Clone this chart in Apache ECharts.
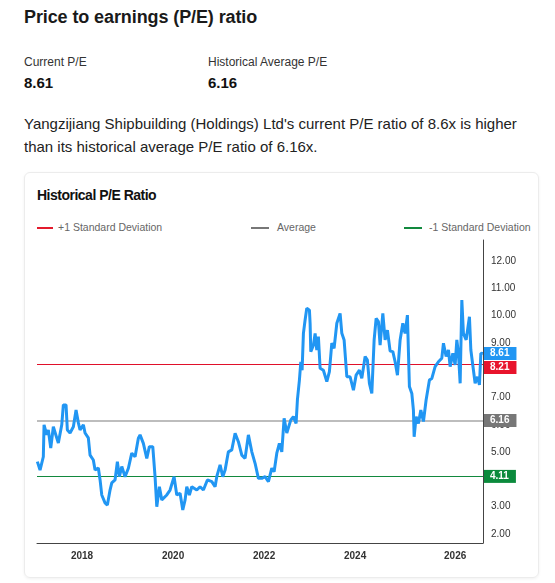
<!DOCTYPE html>
<html>
<head>
<meta charset="utf-8">
<script src="https://cdn.jsdelivr.net/npm/echarts@6/dist/echarts.min.js"></script>
<style>
  html, body { margin:0; padding:0; background:#fff; }
  body { width:555px; height:583px; position:relative; overflow:hidden;
         font-family:"Liberation Sans", Arial, sans-serif; color:#1a1a1a; }
  .abs { position:absolute; white-space:nowrap; }
  #title { left:24px; top:7px; font-size:18px; font-weight:bold; letter-spacing:-0.1px; }
  .lab { font-size:12px; color:#333; }
  .val { font-size:15px; font-weight:bold; color:#111; }
  #para { left:24px; top:112px; font-size:15px; line-height:23px; color:#222; white-space:normal; width:520px; }
  #card { position:absolute; left:24px; top:172px; width:513px; height:404px;
          border:1px solid #ececec; border-radius:6px; box-shadow:0 1px 3px rgba(0,0,0,0.06); }
  #ctitle { left:37px; top:187px; font-size:14px; font-weight:bold; letter-spacing:-0.5px; color:#111; }
  .lg { font-size:10.5px; color:#666; top:221px; }
  .lgl { position:absolute; height:2px; top:226.5px; }
  #chart { position:absolute; left:0; top:0; width:555px; height:583px; }
</style>
</head>
<body>
<div id="title" class="abs">Price to earnings (P/E) ratio</div>
<div class="abs lab" style="left:24px;top:55px;">Current P/E</div>
<div class="abs val" style="left:24px;top:74px;">8.61</div>
<div class="abs lab" style="left:208px;top:55px;">Historical Average P/E</div>
<div class="abs val" style="left:208px;top:74px;">6.16</div>
<div id="para" class="abs">Yangzijiang Shipbuilding (Holdings) Ltd's current P/E ratio of 8.6x is higher than its historical average P/E ratio of 6.16x.</div>
<div id="card"></div>
<div id="ctitle" class="abs">Historical P/E Ratio</div>
<div class="lgl" style="left:37px;width:16px;background:#e31b2d;"></div>
<div class="abs lg" style="left:58px;">+1 Standard Deviation</div>
<div class="lgl" style="left:251px;width:18px;background:#777;"></div>
<div class="abs lg" style="left:277px;">Average</div>
<div class="lgl" style="left:404px;width:18px;background:#12893e;"></div>
<div class="abs lg" style="left:429px;">-1 Standard Deviation</div>
<div id="chart"></div>
<script>
// time in decimal years
const years = [
2017.018,2017.077,2017.149,2017.165,2017.224,2017.259,2017.312,2017.369,2017.407,2017.479,
2017.554,2017.589,2017.648,2017.677,2017.736,2017.809,2017.868,2017.919,2017.956,2018.029,
2018.066,2018.138,2018.176,2018.248,2018.286,2018.358,2018.396,2018.433,2018.505,2018.556,
2018.615,2018.653,2018.725,2018.776,2018.820,2018.873,2018.945,2019.018,2019.092,2019.165,
2019.237,2019.275,2019.347,2019.422,2019.479,2019.554,2019.604,2019.642,2019.699,2019.752,
2019.862,2019.934,2020.022,2020.081,2020.154,2020.213,2020.264,2020.301,2020.358,2020.411,
2020.521,2020.593,2020.666,2020.754,2020.851,2020.923,2020.960,2021.033,2021.092,2021.143,
2021.215,2021.290,2021.363,2021.435,2021.510,2021.582,2021.655,2021.730,2021.802,2021.875,
2021.949,2022.022,2022.095,2022.169,2022.220,2022.279,2022.336,2022.389,2022.440,2022.499,
2022.587,2022.644,2022.703,2022.732,2022.776,2022.807,2022.835,2022.864,2022.901,2022.938,
2022.996,2023.011,2023.026,2023.084,2023.121,2023.158,2023.193,2023.231,2023.303,2023.378,
2023.435,2023.488,2023.538,2023.598,2023.670,2023.708,2023.758,2023.818,2023.890,2023.963,
2024.022,2024.095,2024.147,2024.220,2024.270,2024.314,2024.367,2024.418,2024.462,2024.512,
2024.549,2024.609,2024.659,2024.710,2024.769,2024.829,2024.879,2024.930,2024.989,2025.048,
2025.099,2025.149,2025.193,2025.246,2025.281,2025.297,2025.341,2025.391,2025.444,2025.501,
2025.560,2025.633,2025.686,2025.758,2025.831,2025.905,2025.941,2026.000,2026.051,2026.088,
2026.147,2026.198,2026.235,2026.270,2026.308,2026.345,2026.380,2026.440,2026.512,2026.543,
2026.600,2026.637,2026.688,2026.732,2026.763,2026.807
];
const peRatio = [
4.65,4.34,4.83,6.00,5.63,5.81,5.15,5.93,5.88,5.33,
6.00,6.73,6.73,5.81,5.70,5.93,6.54,6.07,5.81,6.00,
5.70,5.52,4.89,4.71,4.34,4.42,3.98,3.43,3.14,3.06,
3.61,3.87,3.98,4.65,4.10,4.47,4.10,4.41,4.96,4.83,
5.51,5.63,5.32,4.77,5.20,5.20,4.10,3.00,3.73,3.25,
3.43,3.61,4.10,3.43,3.49,2.88,3.25,3.73,3.43,3.73,
3.61,3.73,3.61,3.98,3.92,3.73,4.10,4.53,4.10,4.34,
5.01,5.08,5.69,5.38,4.89,4.77,5.63,5.01,4.59,4.04,
4.04,4.10,3.92,4.41,4.28,4.96,5.32,5.01,6.24,5.70,
6.18,6.30,6.05,6.91,7.64,8.31,8.00,9.35,9.84,10.27,
10.20,9.72,8.68,8.92,9.35,8.74,9.23,8.07,8.00,7.58,
7.95,8.99,8.80,9.72,10.08,9.35,9.11,7.76,7.76,7.27,
7.82,8.00,7.70,8.50,8.37,7.52,7.15,9.11,9.90,9.78,
8.92,10.08,9.11,9.47,8.70,8.68,8.31,7.82,9.11,9.72,
9.35,10.02,7.40,7.15,6.54,5.56,6.30,6.05,6.54,6.12,
6.91,7.64,7.70,8.13,8.31,8.44,8.99,8.50,8.74,8.13,
8.62,8.19,9.11,8.62,7.52,10.57,9.35,9.11,9.96,8.74,
8.00,7.52,7.76,7.46,8.62,8.61
];
const currentPE = 8.61;
const plusOneSD = 8.21;
const averagePE = 6.16;
const minusOneSD = 4.11;

const chart = echarts.init(document.getElementById('chart'), null, {renderer:'canvas'});
const tagFont = {fontFamily:'Liberation Sans, Arial, sans-serif', fontSize:10, fontWeight:'bold', color:'#fff'};
function tag(bg, extra) {
  return Object.assign({show:true, position:'end', distance:1, padding:[2,7,1,6],
    backgroundColor:bg, formatter: p => Number(p.value).toFixed(2)}, tagFont, extra || {});
}
chart.setOption({
  animation:false,
  backgroundColor:'transparent',
  grid:{left:37, right:72, top:240, bottom:40, containLabel:false},
  xAxis:{
    type:'value', min:2017.01, max:2026.81, splitNumber:5,
    axisLine:{show:true, lineStyle:{color:'#444', width:1}},
    axisTick:{show:false}, splitLine:{show:false},
    axisLabel:{
      showMinLabel:false, showMaxLabel:false, margin:8,
      fontFamily:'Liberation Sans, Arial, sans-serif', fontSize:10, fontWeight:'bold', color:'#333',
      formatter: v => { const y = Math.round(v); return y === 2026 ? '{s|' + y + '}' : String(y); },
      rich:{ s:{ padding:[0,0,0,18], fontSize:10, fontWeight:'bold', color:'#333',
                 fontFamily:'Liberation Sans, Arial, sans-serif' } }
    }
  },
  yAxis:{
    type:'value', position:'right', min:1.67, max:12.77, splitNumber:10,
    axisLine:{show:true, lineStyle:{color:'#444', width:1}},
    axisTick:{show:false}, splitLine:{show:false},
    axisLabel:{ showMinLabel:false, showMaxLabel:false, margin:8,
      fontFamily:'Liberation Sans, Arial, sans-serif', fontSize:10, color:'#333',
      formatter: v => Number(v).toFixed(2) }
  },
  series:[{
    type:'line',
    data: years.map((t,i) => [t, peRatio[i]]),
    showSymbol:false, symbol:'none',
    lineStyle:{color:'#2196f3', width:3},
    z:3,
    markLine:{
      silent:true, symbol:'none', z:2,
      data:[
        {yAxis:averagePE, lineStyle:{color:'#bdbdbd', width:2, type:'solid'}, label:tag('#777777')},
        {yAxis:minusOneSD, lineStyle:{color:'#12893e', width:1, type:'solid'}, label:tag('#0b8a3c')},
        {yAxis:plusOneSD, lineStyle:{color:'#e0102a', width:1, type:'solid'}, label:tag('#e8142c', {offset:[0,3]})},
        {yAxis:currentPE, lineStyle:{color:'rgba(0,0,0,0)', width:1, type:'solid'}, label:tag('#2196f3')}
      ]
    }
  }]
});
</script>
</body>
</html>
